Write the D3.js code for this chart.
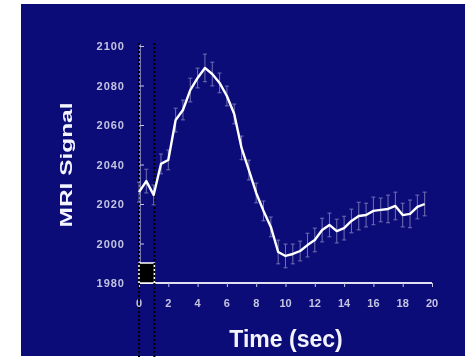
<!DOCTYPE html>
<html><head><meta charset="utf-8">
<script src="https://cdn.jsdelivr.net/npm/d3@7"></script>
<style>html,body{margin:0;padding:0;background:#fff;}svg{display:block;}</style>
</head><body>
<svg id="c" width="465" height="357"></svg>
<script>
const times = [0,0.5,1,1.5,2,2.5,3,3.5,4,4.5,5,5.5,6,6.5,7,7.5,8,8.5,9,9.5,10,10.5,11,11.5,12,12.5,13,13.5,14,14.5,15,15.5,16,16.5,17,17.5,18,18.5,19,19.5];
const signal = [2026,2031.6,2024.6,2040.3,2042.3,2062.5,2067.6,2077.7,2083.8,2088.9,2085.8,2081.3,2074.7,2065.6,2048.4,2037.2,2025.6,2016.5,2008.4,1995.7,1993.7,1994.7,1996.2,1999.2,2001.8,2006.8,2009.4,2006.3,2007.8,2011.4,2013.9,2014.4,2016.5,2017,2017.5,2019,2014.4,2015,2018.5,2020];
const errors = [5,6,5,5,5,6,5,6,5,7,6,5,5,5,6,5,5,5,5,6,6,5,5,6,6,6,6,6,6,6,7,6,7,6,7,7,6,7,6,6];
const xTicks = [0,2,4,6,8,10,12,14,16,18,20];
const yTicks = [1980,2000,2020,2040,2060,2080,2100];
const stimulus = [0, 1.05];

const svg = d3.select("#c");
const bg = "#0c0c78";
svg.append("rect").attr("x",21).attr("y",4).attr("width",444).attr("height",352).attr("fill",bg);

const defs = svg.append("defs");
defs.append("filter").attr("id","blur").append("feGaussianBlur").attr("stdDeviation",0.6);

const x = d3.scaleLinear().domain([0,20]).range([139,432]);
const y = d3.scaleLinear().domain([1980,2100]).range([283,46]);
const g = svg.append("g").attr("filter","url(#blur)");
const axisCol = "#c4c4e2";

// y axis
const ya = g.append("g").attr("transform","translate(140,0)")
  .call(d3.axisRight(y).tickValues(yTicks).tickSize(4).tickFormat(""));
ya.select(".domain").attr("stroke",axisCol).attr("stroke-width",1.2).attr("d","M0,"+(y(2100)-2)+"V"+y(1980));
ya.selectAll(".tick line").attr("stroke",axisCol);
g.selectAll(".ylab").data(yTicks).enter().append("text")
  .attr("x",125).attr("y",d=>y(d)+4).attr("text-anchor","end")
  .attr("fill",axisCol).attr("font-family","Liberation Sans, Arial, sans-serif").attr("font-weight","bold")
  .attr("font-size",11).attr("letter-spacing",1).text(d=>d);

// x axis
const xa = g.append("g").attr("transform","translate(0,283)")
  .call(d3.axisBottom(x).tickValues(xTicks).tickSize(4).tickFormat(""));
xa.select(".domain").attr("stroke","#e0e0f2").attr("stroke-width",2).attr("d","M"+x(0)+",0H"+x(20));
xa.selectAll(".tick line").attr("stroke",axisCol);
g.selectAll(".xlab").data(xTicks).enter().append("text")
  .attr("x",d=>x(d)).attr("y",307).attr("text-anchor","middle")
  .attr("fill",axisCol).attr("font-family","Liberation Sans, Arial, sans-serif").attr("font-weight","bold")
  .attr("font-size",11).text(d=>d);

// stimulus box
g.append("rect").attr("x",x(stimulus[0])).attr("y",263).attr("width",x(stimulus[1])-x(stimulus[0])).attr("height",20)
  .attr("fill","#000").attr("stroke","#ffffff").attr("stroke-width",1.5);
// dotted lines
stimulus.forEach(s=>{
  g.append("line").attr("x1",x(s)).attr("x2",x(s)).attr("y1",43).attr("y2",357)
   .attr("stroke","#000").attr("stroke-width",2).attr("stroke-dasharray","2,2");
});

// error bars
const eb = g.append("g").attr("stroke","#8a8ac4").attr("stroke-width",1).attr("opacity",0.8);
times.forEach((t,i)=>{
  const cx = x(t), y1 = y(signal[i]-errors[i]), y2 = y(signal[i]+errors[i]);
  eb.append("line").attr("x1",cx).attr("x2",cx).attr("y1",y1).attr("y2",y2);
  eb.append("line").attr("x1",cx-2).attr("x2",cx+2).attr("y1",y1).attr("y2",y1);
  eb.append("line").attr("x1",cx-2).attr("x2",cx+2).attr("y1",y2).attr("y2",y2);
});

// line
g.append("path").datum(times.map((t,i)=>[t,signal[i]]))
  .attr("fill","none").attr("stroke","#ffffff").attr("stroke-width",2.4).attr("stroke-linejoin","round")
  .attr("d",d3.line().x(d=>x(d[0])).y(d=>y(d[1])));

// titles
g.append("text").attr("transform","translate(72,165) rotate(-90)").attr("text-anchor","middle")
  .attr("fill","#f4f4ff").attr("font-family","Liberation Sans, Arial, sans-serif").attr("font-weight","bold")
  .attr("font-size",17).attr("textLength",125).attr("lengthAdjust","spacingAndGlyphs").text("MRI Signal");
g.append("text").attr("x",286).attr("y",347).attr("text-anchor","middle")
  .attr("fill","#f4f4ff").attr("font-family","Liberation Sans, Arial, sans-serif").attr("font-weight","bold")
  .attr("font-size",23).text("Time (sec)");
</script>
</body></html>
